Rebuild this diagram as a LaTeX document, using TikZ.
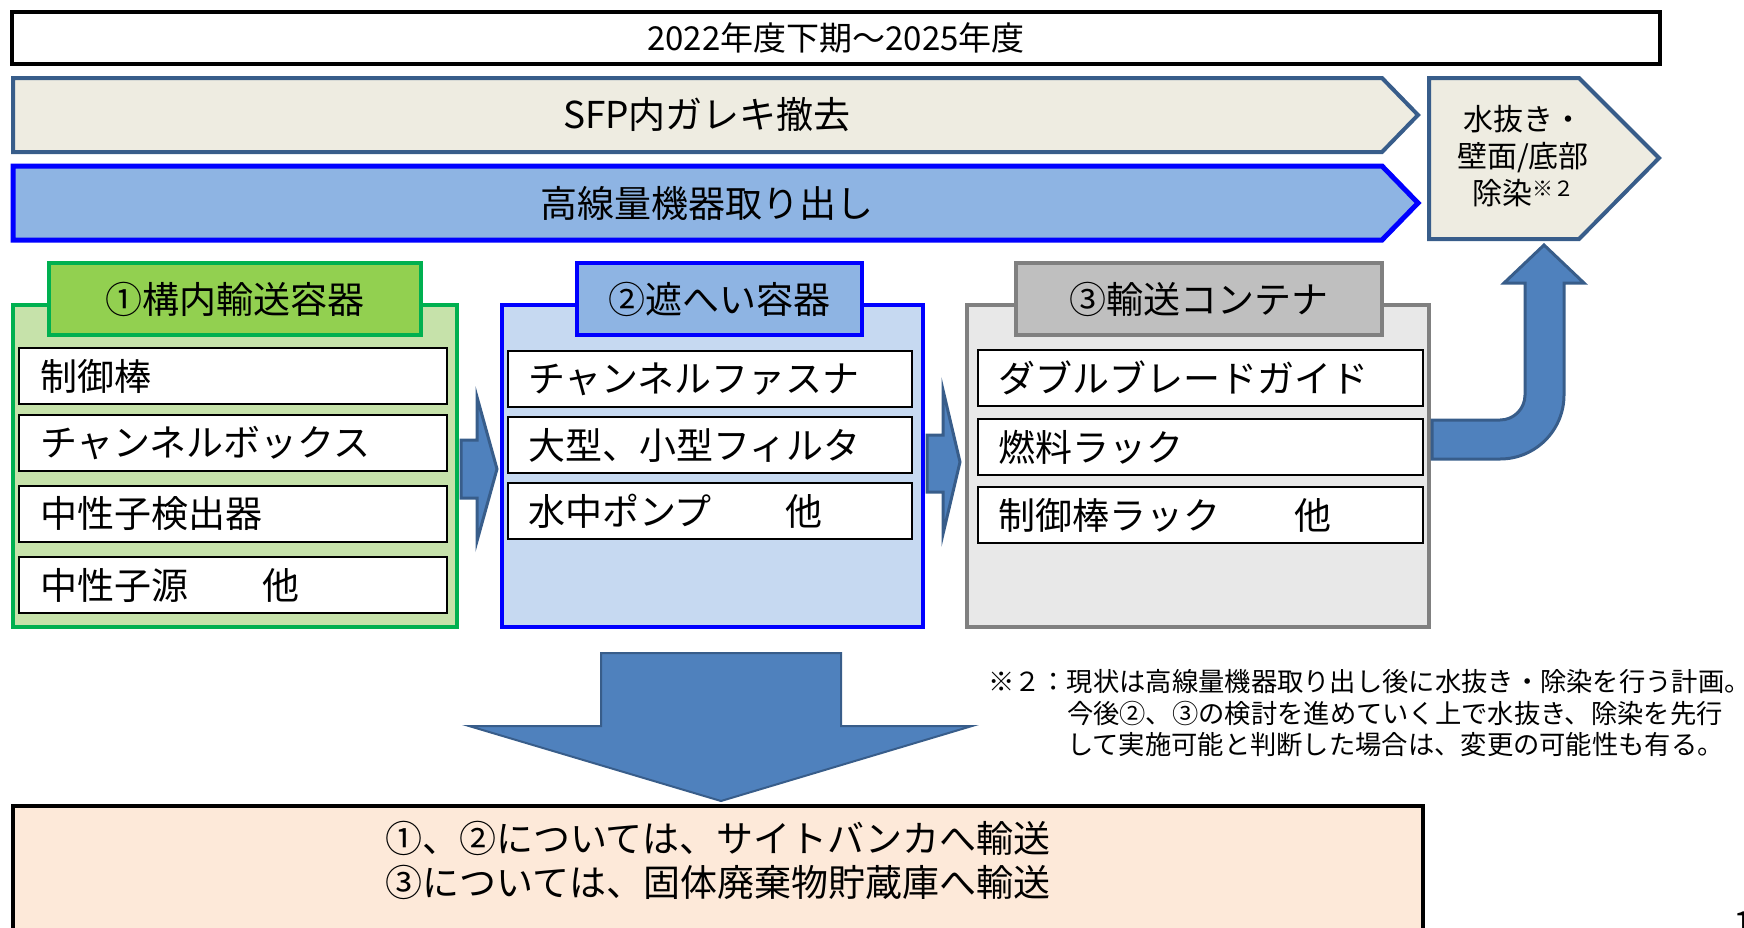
\documentclass[tikz,border=0pt]{standalone}
\usepackage{fontspec}
\setmainfont{Noto Sans CJK JP}
\usetikzlibrary{positioning}

\definecolor{tan}{HTML}{EEECE1}
\definecolor{steel}{HTML}{385D8A}
\definecolor{skyblue}{HTML}{8EB4E3}
\definecolor{paleblue}{HTML}{C6D9F1}
\definecolor{palegreen}{HTML}{C6E2AA}
\definecolor{leafgreen}{HTML}{92D050}
\definecolor{darkgreen}{HTML}{00B050}
\definecolor{palegray}{HTML}{E8E8E8}
\definecolor{midgray}{HTML}{BFBFBF}
\definecolor{edgegray}{HTML}{808080}
\definecolor{arrowblue}{HTML}{4F81BD}
\definecolor{peach}{HTML}{FDE9D9}

\tikzset{
  big/.style={font=\fontsize{37}{44}\selectfont},
  mid/.style={font=\fontsize{30}{37}\selectfont},
  small/.style={font=\fontsize{26.3}{31.5}\selectfont},
  group/.style={draw, line width=4pt, rectangle, minimum height=322pt},
  header/.style={draw, line width=4pt, rectangle, minimum height=72pt, big},
  item/.style={draw=black, line width=2pt, fill=white, rectangle, anchor=north west,
    minimum height=56pt, inner ysep=0pt, inner xsep=21pt, text width=#1, align=left, big},
  blockarrow/.style={draw=steel, fill=arrowblue, line width=3pt, line join=miter},
}

\begin{document}
\begin{tikzpicture}[x=1pt, y=-1pt, inner sep=0pt, outer sep=0pt]
  \useasboundingbox (0,0) rectangle (1744,927);

  % 期間
  \node[draw, line width=4pt, fill=white, minimum width=1648pt, minimum height=52pt,
    font=\fontsize{33}{40}\selectfont] (period) at (836,38) {2022年度下期～2025年度};

  % 工程の矢印
  \draw[draw=steel, fill=tan, line width=4pt]
    (13,78) -- (1382,78) -- (1418,115) -- (1382,152) -- (13,152) -- cycle;
  \node[big] (debris) at (707,115) {SFP内ガレキ撤去};
  \draw[draw=blue, fill=skyblue, line width=5pt]
    (13,166) -- (1382,166) -- (1418,203) -- (1382,240) -- (13,240) -- cycle;
  \node[big] (removal) at (707,203) {高線量機器取り出し};
  \draw[draw=steel, fill=tan, line width=4pt]
    (1429,78) -- (1579,78) -- (1659,158) -- (1579,239) -- (1429,239) -- cycle;
  \node[mid, align=center] (drain) at (1523,156)
    {水抜き・\\壁面/底部\\除染{\fontsize{21}{21}\selectfont\raisebox{8pt}{※２}}};

  % ①構内輸送容器
  \node[group, draw=darkgreen, fill=palegreen, minimum width=444pt] (g1) at (235,466) {};
  \node[header, draw=darkgreen, fill=leafgreen, minimum width=372pt] (h1) at (235,299) {①構内輸送容器};
  \node[item=386pt] (g1a) at (19,348) {制御棒};
  \node[item=386pt] (g1b) at (19,415) {チャンネルボックス};
  \node[item=386pt] (g1c) at (19,486) {中性子検出器};
  \node[item=386pt] (g1d) at (19,557) {中性子源　　他};

  % ②遮へい容器
  \node[group, draw=blue, fill=paleblue, minimum width=421pt] (g2) at (712.5,466) {};
  \node[header, draw=blue, fill=skyblue, minimum width=285pt] (h2) at (719.5,299) {②遮へい容器};
  \node[item=364pt, inner xsep=20pt] (g2a) at (508,351) {チャンネルファスナ};
  \node[item=364pt, inner xsep=20pt] (g2b) at (508,417) {大型、小型フィルタ};
  \node[item=364pt, inner xsep=20pt] (g2c) at (508,483) {水中ポンプ　　他};

  % ③輸送コンテナ
  \node[group, draw=edgegray, fill=palegray, minimum width=462pt] (g3) at (1198,466) {};
  \node[header, draw=edgegray, fill=midgray, minimum width=366pt] (h3) at (1199,299) {③輸送コンテナ};
  \node[item=405pt, inner xsep=20pt] (g3a) at (978,350) {ダブルブレードガイド};
  \node[item=405pt, inner xsep=20pt] (g3b) at (978,419) {燃料ラック};
  \node[item=405pt, inner xsep=20pt] (g3c) at (978,487) {制御棒ラック　　他};

  % 容器の間の矢印
  \draw[blockarrow] (461,440) -- (477,440) -- (477,397) -- (497,469) -- (477,541)
    -- (477,498) -- (461,498) -- cycle;
  \draw[blockarrow] (927,435) -- (943,435) -- (943,390) -- (960,462) -- (943,534)
    -- (943,492) -- (927,492) -- cycle;

  % 水抜きへの矢印
  \draw[blockarrow] (1432,420) -- (1500,420) arc[start angle=90, end angle=0, radius=25]
    -- (1525,283) -- (1504,283) -- (1544,245) -- (1584,283) -- (1564,283) -- (1564,395)
    arc[start angle=0, end angle=90, radius=64] -- (1432,459) -- cycle;

  % 下向きの矢印
  \draw[blockarrow, line width=2pt] (601,653) -- (841,653) -- (841,726) -- (972,726)
    -- (721,801) -- (469,726) -- (601,726) -- cycle;

  % 注記
  \node[small, anchor=base west] (note1) at (988,691) {※２：現状は高線量機器取り出し後に水抜き・除染を行う計画。};
  \node[small, anchor=base west] (note2) at (1067,723) {今後②、③の検討を進めていく上で水抜き、除染を先行};
  \node[small, anchor=base west] (note3) at (1067,754) {して実施可能と判断した場合は、変更の可能性も有る。};

  % 輸送先
  \node[draw, line width=4pt, fill=peach, minimum width=1410pt, minimum height=150pt]
    (result) at (718,881) {};
  \node[big, align=center] (dest) at (718,860)
    {①、②については、サイトバンカへ輸送\\③については、固体廃棄物貯蔵庫へ輸送};

  % ページ番号
  \node[font=\fontsize{36}{40}\selectfont, anchor=base west] (page) at (1733,937) {1};
\end{tikzpicture}
\end{document}
